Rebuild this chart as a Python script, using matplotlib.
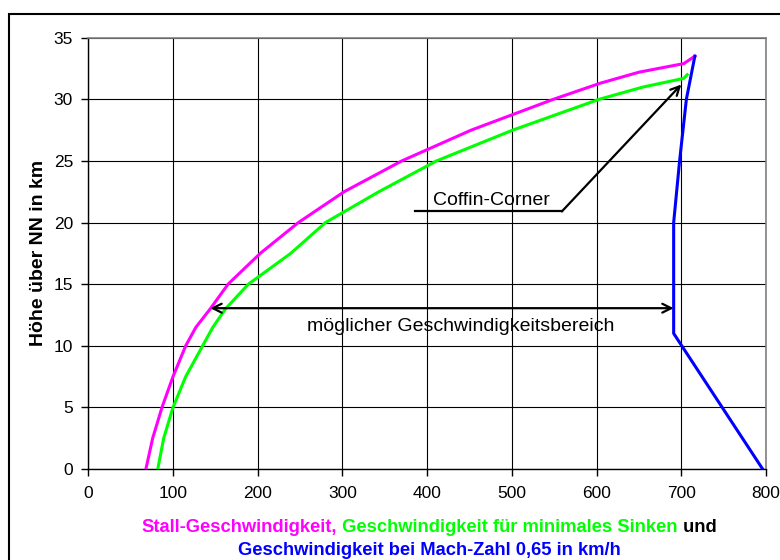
import matplotlib
matplotlib.use("Agg")
from matplotlib import pyplot as plt
from matplotlib.patches import Rectangle

# Stall-Geschwindigkeit (km/h) über der Höhe (km)
stall_v = [68, 76, 87, 100, 115, 127, 144, 165, 203, 248, 302, 370, 452, 549, 604, 650, 703, 716]
stall_h = [0, 2.5, 5, 7.5, 10, 11.5, 13, 15, 17.5, 20, 22.5, 25, 27.5, 30, 31.3, 32.2, 32.9, 33.5]

# Geschwindigkeit für minimales Sinken
sink_v = [82, 89, 100, 115, 135, 147, 162, 189, 239, 280, 343, 411, 501, 603, 655, 703, 707]
sink_h = [0, 2.5, 5, 7.5, 10, 11.5, 13, 15, 17.5, 20, 22.5, 25, 27.5, 30, 31, 31.7, 32]

# Geschwindigkeit bei Mach 0,65
mach_v = [796, 691, 691, 698, 706, 716]
mach_h = [0, 11, 20, 25, 30, 33.5]

x_ticks = [0, 100, 200, 300, 400, 500, 600, 700, 800]
y_ticks = [0, 5, 10, 15, 20, 25, 30, 35]

plt.rcParams['font.family'] = ['Liberation Sans', 'Arial', 'DejaVu Sans']

W, H = 780, 560
fig = plt.figure(figsize=(W / 100, H / 100), dpi=100)
ax = fig.add_axes([88.3 / W, 1 - 469 / H, (766 - 88.3) / W, (469 - 37.7) / H])

# Rahmen um das Diagramm (rechts und unten abgeschnitten)
fig.patches.append(Rectangle((8.5 / W, -0.2), 2, 1.2 - 13.5 / H, transform=fig.transFigure,
                             fill=False, edgecolor='black', lw=1.5))

ax.plot(stall_v, stall_h, color='#FF00FF', lw=2.2, zorder=3)
ax.plot(sink_v, sink_h, color='#00FF00', lw=2.2, zorder=3)
ax.plot(mach_v, mach_h, color='#0000FF', lw=2.2, zorder=3)

# möglicher Geschwindigkeitsbereich
ax.annotate('', xy=(144, 13.05), xytext=(691, 13.05),
            arrowprops=dict(arrowstyle='<->', lw=1.6, color='black',
                            shrinkA=0, shrinkB=0, mutation_scale=16), zorder=4)
ax.text(439, 11.6, 'möglicher Geschwindigkeitsbereich', ha='center', va='center', fontsize=14)

# Coffin-Corner
ax.plot([386, 559], [20.9, 20.9], color='black', lw=1.6, zorder=4)
ax.annotate('', xy=(700, 31.2), xytext=(559, 20.9),
            arrowprops=dict(arrowstyle='->', lw=1.6, color='black',
                            shrinkA=0, shrinkB=0, mutation_scale=16), zorder=4)
ax.text(407, 21.1, 'Coffin-Corner', ha='left', va='bottom', fontsize=14)

ax.set_xlim(0, 800)
ax.set_ylim(0, 35)
ax.set_xticks(x_ticks)
ax.set_yticks(y_ticks)
ax.tick_params(direction='out', length=5, width=1, labelsize=12.5, pad=6)
ax.tick_params(axis='x', pad=7)
ax.grid(True, color='black', lw=0.8)
ax.set_axisbelow(True)
for s in ['top', 'right']:
    ax.spines[s].set_color('#808080')
    ax.spines[s].set_linewidth(1.2)
for s in ['left', 'bottom']:
    ax.spines[s].set_color('black')
    ax.spines[s].set_linewidth(1)

ax.set_ylabel('Höhe über NN in km', fontsize=14, fontweight='bold', labelpad=5)

# zweizeilige, farbige Beschriftung unter der x-Achse
fig.canvas.draw()
r = fig.canvas.get_renderer()
lines = [(1 - 532.5 / H, [('Stall-Geschwindigkeit,', '#FF00FF'),
                          (' Geschwindigkeit für minimales Sinken', '#00FF00'),
                          (' und', 'black')]),
         (1 - 555 / H, [('Geschwindigkeit bei Mach-Zahl 0,65 in km/h', '#0000FF')])]
center = 429
for y, parts in lines:
    texts = [fig.text(0, y, s, color=c, fontsize=13.2, fontweight='bold', va='baseline')
             for s, c in parts]
    widths = [t.get_window_extent(r).width for t in texts]
    x = center - sum(widths) / 2
    for t, w in zip(texts, widths):
        t.set_x(x / W)
        x += w

fig.savefig('out.png', dpi=100)
